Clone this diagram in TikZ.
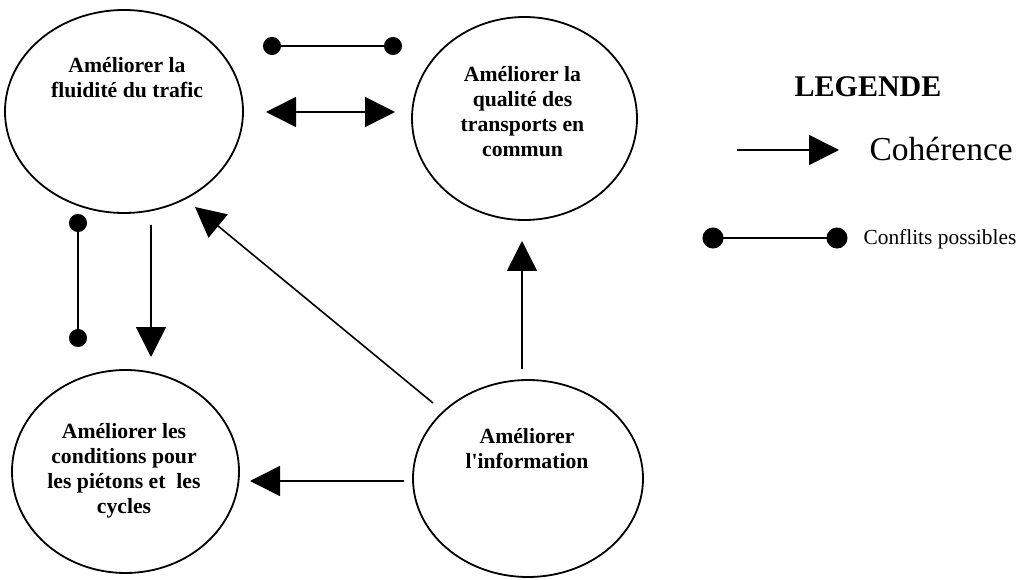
\documentclass[tikz,border=0pt]{standalone}
\usepackage{fontspec}
\setmainfont{Liberation Serif}[Ligatures=TeXOff]
\usetikzlibrary{shapes.geometric,arrows.meta}
\begin{document}
\begin{tikzpicture}[x=1pt,y=-1pt,>={Triangle[length=30pt,width=30pt]},
	goal/.style={draw, ellipse, line width=1.8pt, inner sep=0pt},
	txt/.style={align=center, anchor=base, font=\fontsize{21.7}{25}\selectfont\bfseries},
	coh/.style={->, line width=1.6pt},
	conf/.style={{Circle[length=18pt]}-{Circle[length=18pt]}, line width=1.6pt}]
	\useasboundingbox (0,0) rectangle (1018,580);
	\node (fl) [goal, minimum width=238pt, minimum height=203pt] at (124,111.5) {};
	\node (tc) [goal, minimum width=225pt, minimum height=203pt] at (524.5,118.5) {};
	\node (pc) [goal, minimum width=227pt, minimum height=203pt] at (125.5,471.5) {};
	\node (inf) [goal, minimum width=230pt, minimum height=197pt] at (528,478.5) {};
	\node (fl-t) [txt] at (127,98) {Améliorer la\\fluidité du trafic};
	\node (tc-t) [txt] at (522.5,157) {Améliorer la\\qualité des\\transports en\\commun};
	\node (pc-t) [txt] at (124,513) {Améliorer les\\conditions pour\\les piétons et~ les\\cycles};
	\node (inf-t) [txt] at (527,468) {Améliorer\\l'information};
	\draw[coh] ([shift={(27,113.5)}]fl.center) -- ([shift={(25.5,-114.5)}]pc.center);
	\draw[conf] ([shift={(-46,102.5)}]fl.center) -- ([shift={(-47.5,-124.5)}]pc.center);
	\draw[coh, <->] ([shift={(142,0.5)}]fl.center) -- ([shift={(-129.5,-6.5)}]tc.center);
	\draw[conf] ([shift={(139,-65.5)}]fl.center) -- ([shift={(-122.5,-72.5)}]tc.center);
	\draw[coh] ([shift={(-95,-75.5)}]inf.center) -- ([shift={(71,95.5)}]fl.center);
	\draw[coh] ([shift={(-6,-109.5)}]inf.center) -- ([shift={(-2.5,122.5)}]tc.center);
	\draw[coh] ([shift={(-124,2.5)}]inf.center) -- ([shift={(124.5,9.5)}]pc.center);
	\node (leg) [anchor=base, font=\fontsize{30}{36}\selectfont\bfseries] at (868,97) {LEGENDE};
	\coordinate (coh-a) at (737,150);
	\coordinate (coh-b) at (839,150);
	\draw[coh] (coh-a) -- (coh-b);
	\node (coh-t) [anchor=base west, font=\fontsize{33.5}{40}\selectfont] at (866,161) {Cohérence};
	\coordinate (conf-a) at (702.5,238);
	\coordinate (conf-b) at (847.5,238);
	\draw[conf, {Circle[length=21pt]}-{Circle[length=21pt]}] (conf-a) -- (conf-b);
	\node (conf-t) [anchor=base west, font=\fontsize{21.4}{25}\selectfont] at (860,245) {Conflits possibles};
\end{tikzpicture}
\end{document}
